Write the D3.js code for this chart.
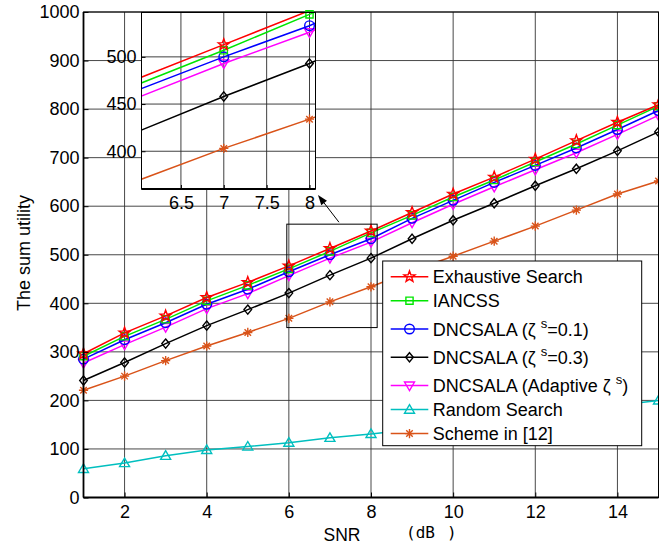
<!DOCTYPE html>
<html><head><meta charset="utf-8">
<script src="https://cdn.jsdelivr.net/npm/d3@7"></script>
<style>
body{margin:0;background:#fff}
svg{display:block}
text{font-family:"Liberation Sans",Arial,Helvetica,sans-serif;fill:#000}
</style>
</head><body>
<svg id="chart" width="659" height="544"></svg>
<script>
// ---------------- data ----------------
const snr = [1,2,3,4,5,6,7,8,9,10,11,12,13,14,15];
const exhaustiveSearch = [296,339,374,412,443,477,513,549,587,625,660,697,735,773,809];
const iancss          = [291,332,367,405,437,471,507,545,581,619,654,691,728,767,806];
const dncsala01       = [285,325,360,398,429,465,500,533,575,612,649,684,720,758,797];
const dncsala03       = [241,278,317,354,387,421,458,493,533,571,606,642,677,714,753];
const dncsalaAdaptive = [277,315,351,389,420,457,493,526,566,604,640,675,710,748,787];
const randomSearch    = [59,71,86,98,105,113,123,131,140,150,160,170,180,190,200];
const scheme12        = [221,250,282,312,340,369,403,434,467,497,528,559,592,625,652];

const seriesNames = ["Exhaustive Search","IANCSS","DNCSALA (ζ ^s=0.1)","DNCSALA (ζ ^s=0.3)",
                     "DNCSALA (Adaptive ζ ^s)","Random Search","Scheme in [12]"];
const seriesValues = [exhaustiveSearch, iancss, dncsala01, dncsala03, dncsalaAdaptive, randomSearch, scheme12];
const seriesColors = ["#ff0000","#00e600","#0000ff","#000000","#ff00ff","#00bfbf","#d95319"];
const seriesMarkers = ["star","square","circle","diamond","triDown","triUp","asterisk"];

const xTicks = [2,4,6,8,10,12,14];
const yTicks = [0,100,200,300,400,500,600,700,800,900,1000];
const insetXTicks = [6.5,7,7.5,8];
const insetYTicks = [400,450,500];
const insetXDomain = [6.04, 8.07];
const insetYDomain = [360, 547];
const zoomBoxX = [5.95, 8.15];
const zoomBoxY = [350, 563];
const arrowFrom = [7.22, 567];
const arrowTo = [6.71, 623];

// ---------------- setup ----------------
const svg = d3.select("#chart");
const L = 83.5, R = 658.5, T = 12, B = 497.5;
const x = d3.scaleLinear().domain([1,15]).range([L,R]);
const y = d3.scaleLinear().domain([0,1000]).range([B,T]);
const FS = 18;

const series = seriesNames.map((n,i)=>({
  name:n, color:seriesColors[i], marker:seriesMarkers[i],
  pts: snr.map((s,j)=>({x:s, y:seriesValues[i][j]}))
}));

function drawMarker(g, type, color){
  const sw = 1.4;
  let p;
  switch(type){
    case "star": {
      const pts=[]; for(let k=0;k<10;k++){const r=k%2?2.4:5.8;const a=-Math.PI/2+k*Math.PI/5;pts.push([r*Math.cos(a),r*Math.sin(a)]);}
      p = "M"+pts.map(d=>d.map(v=>v.toFixed(2)).join(",")).join("L")+"Z"; break; }
    case "square": p="M-3.6,-3.6H3.6V3.6H-3.6Z"; break;
    case "circle": g.append("circle").attr("r",4.8).attr("fill","none").attr("stroke",color).attr("stroke-width",sw); return;
    case "diamond": p="M0,-4.6L3.8,0L0,4.6L-3.8,0Z"; break;
    case "triDown": p="M-5,-3.6L5,-3.6L0,5Z"; break;
    case "triUp": p="M-5,3.6L5,3.6L0,-5Z"; break;
    case "asterisk": {
      const r=4.6, d=r*Math.SQRT1_2;
      p=`M${-r},0H${r}M0,${-r}V${r}M${-d},${-d}L${d},${d}M${-d},${d}L${d},${-d}`; break; }
  }
  g.append("path").attr("d",p).attr("fill","none").attr("stroke",color).attr("stroke-width",sw).attr("stroke-linejoin","miter");
}

// ---------------- main grid ----------------
const grid = svg.append("g").attr("stroke","#333").attr("stroke-width",0.9);
xTicks.forEach(t=>grid.append("line").attr("x1",x(t)).attr("x2",x(t)).attr("y1",T).attr("y2",B));
yTicks.forEach(t=>grid.append("line").attr("x1",L).attr("x2",R).attr("y1",y(t)).attr("y2",y(t)));

// ---------------- main lines ----------------
const line = d3.line().x(d=>x(d.x)).y(d=>y(d.y));
const linesG = svg.append("g");
series.slice().reverse().forEach(s=>{
  linesG.append("path").attr("d",line(s.pts)).attr("fill","none").attr("stroke",s.color).attr("stroke-width",1.5);
  s.pts.forEach(p=>drawMarker(linesG.append("g").attr("transform",`translate(${x(p.x)},${y(p.y)})`), s.marker, s.color));
});

// ---------------- main axes ----------------
const ax = svg.append("g");
ax.append("rect").attr("x",L).attr("y",T).attr("width",R-L).attr("height",B-T).attr("fill","none").attr("stroke","#000").attr("stroke-width",1);
ax.append("line").attr("x1",L).attr("x2",L).attr("y1",T).attr("y2",B).attr("stroke","#000").attr("stroke-width",1.8);
ax.append("line").attr("x1",L).attr("x2",R).attr("y1",B).attr("y2",B).attr("stroke","#000").attr("stroke-width",1.8);
const xAxis = d3.axisBottom(x).tickValues(xTicks).tickSize(-5).tickPadding(0).tickFormat(d3.format("d"));
const xa = svg.append("g").attr("transform",`translate(0,${B})`).call(xAxis);
xa.select(".domain").remove();
xa.selectAll("text").attr("font-size",FS).attr("dy",null).attr("y",20.5).attr("font-family",null);
const yAxis = d3.axisLeft(y).tickValues(yTicks).tickSize(-5).tickPadding(4).tickFormat(d3.format("d"));
const ya = svg.append("g").attr("transform",`translate(${L},0)`).call(yAxis);
ya.select(".domain").remove();
ya.selectAll("text").attr("font-size",FS).attr("font-family",null);

// axis titles
svg.append("text").attr("x",342).attr("y",540.5).attr("text-anchor","middle").attr("font-size",17.5).text("SNR");
{
  const t = svg.append("text").attr("x",406).attr("y",538).attr("font-size",16)
    .style("font-family",'"DejaVu Sans Mono","Liberation Mono",monospace');
  t.append("tspan").text("(");
  t.append("tspan").text("dB");
  t.append("tspan").attr("dx",12).text(")");
}
svg.append("text").attr("transform","translate(29.5,253) rotate(-90)").attr("text-anchor","middle").attr("font-size",FS).text("The sum utility");

// ---------------- zoom box & arrow ----------------
svg.append("rect").attr("x",x(zoomBoxX[0])).attr("y",y(zoomBoxY[1]))
  .attr("width",x(zoomBoxX[1])-x(zoomBoxX[0])).attr("height",y(zoomBoxY[0])-y(zoomBoxY[1]))
  .attr("fill","none").attr("stroke","#000").attr("stroke-width",1);
{
  const x1=x(arrowFrom[0]), y1=y(arrowFrom[1]), x2=x(arrowTo[0]), y2=y(arrowTo[1]);
  const a=Math.atan2(y2-y1,x2-x1), hl=10, hw=3.6;
  const bx=x2-hl*Math.cos(a), by=y2-hl*Math.sin(a);
  svg.append("line").attr("x1",x1).attr("y1",y1).attr("x2",bx).attr("y2",by).attr("stroke","#000").attr("stroke-width",1);
  svg.append("path").attr("d",`M${x2},${y2}L${bx+hw*Math.sin(a)},${by-hw*Math.cos(a)}L${bx-hw*Math.sin(a)},${by+hw*Math.cos(a)}Z`).attr("fill","#000");
}

// ---------------- inset ----------------
const ix = d3.scaleLinear().domain(insetXDomain).range([141.5,315.5]);
const iy = d3.scaleLinear().domain(insetYDomain).range([189,12.5]);
const inset = svg.append("g");
inset.append("rect").attr("x",141.5).attr("y",12.5).attr("width",174).attr("height",176.5).attr("fill","#fff");
svg.append("clipPath").attr("id","insetClip").append("rect").attr("x",141.5).attr("y",12.5).attr("width",174).attr("height",176.5);
const ig = inset.append("g").attr("stroke","#2a2a2a").attr("stroke-width",0.9);
insetXTicks.forEach(t=>ig.append("line").attr("x1",ix(t)).attr("x2",ix(t)).attr("y1",12.5).attr("y2",189));
insetYTicks.forEach(t=>ig.append("line").attr("x1",141.5).attr("x2",315.5).attr("y1",iy(t)).attr("y2",iy(t)));
const iline = d3.line().x(d=>ix(d.x)).y(d=>iy(d.y));
const il = inset.append("g");
series.slice().reverse().forEach(s=>{
  if(s.name==="Random Search") return;
  il.append("path").attr("d",iline(s.pts)).attr("fill","none").attr("stroke",s.color).attr("stroke-width",1.5).attr("clip-path","url(#insetClip)");
  s.pts.filter(p=>p.x>=insetXDomain[0]&&p.x<=insetXDomain[1]&&p.y>=insetYDomain[0]&&p.y<=insetYDomain[1])
    .forEach(p=>drawMarker(il.append("g").attr("transform",`translate(${ix(p.x)},${iy(p.y)})`), s.marker, s.color));
});
inset.append("rect").attr("x",141.5).attr("y",12.5).attr("width",174).attr("height",176.5).attr("fill","none").attr("stroke","#000").attr("stroke-width",1);
inset.append("line").attr("x1",141.5).attr("x2",315.5).attr("y1",189).attr("y2",189).attr("stroke","#000").attr("stroke-width",1.8);
const ixa = svg.append("g").attr("transform","translate(0,189)").call(d3.axisBottom(ix).tickValues(insetXTicks).tickSize(-4).tickFormat(d3.format("")));
ixa.select(".domain").remove();
ixa.selectAll("text").attr("font-size",FS).attr("dy",null).attr("y",20).attr("font-family",null);
const iya = svg.append("g").attr("transform","translate(141.5,0)").call(d3.axisLeft(iy).tickValues(insetYTicks).tickSize(-4).tickPadding(5).tickFormat(d3.format("d")));
iya.select(".domain").remove();
iya.selectAll("text").attr("font-size",FS).attr("font-family",null);
svg.selectAll(".tick line").attr("stroke","#000");

// ---------------- legend ----------------
const lg = svg.append("g");
lg.append("rect").attr("x",382.7).attr("y",261).attr("width",259).attr("height",184.7).attr("fill","#fff").attr("stroke","#000").attr("stroke-width",1);
let cy = 276.7;
series.forEach((s,i)=>{
  if(i>0) cy += s.name.includes("^") ? 28.3 : 24;
  const g = lg.append("g").attr("transform",`translate(0,${cy})`);
  g.append("line").attr("x1",390.7).attr("x2",428.3).attr("y1",0).attr("y2",0).attr("stroke",s.color).attr("stroke-width",1.5);
  drawMarker(g.append("g").attr("transform","translate(409.5,0)"), s.marker, s.color);
  const t = g.append("text").attr("x",432.7).attr("y",6.5).attr("font-size",FS);
  const parts = s.name.split(/\^(\w)/);
  parts.forEach((part,k)=>{
    if(k%2===1) t.append("tspan").attr("font-size",13).attr("dy",-8).text(part);
    else if(part.length){ const ts=t.append("tspan").text(part); if(k>0) ts.attr("dy",8); }
  });
});
</script>
</body></html>
